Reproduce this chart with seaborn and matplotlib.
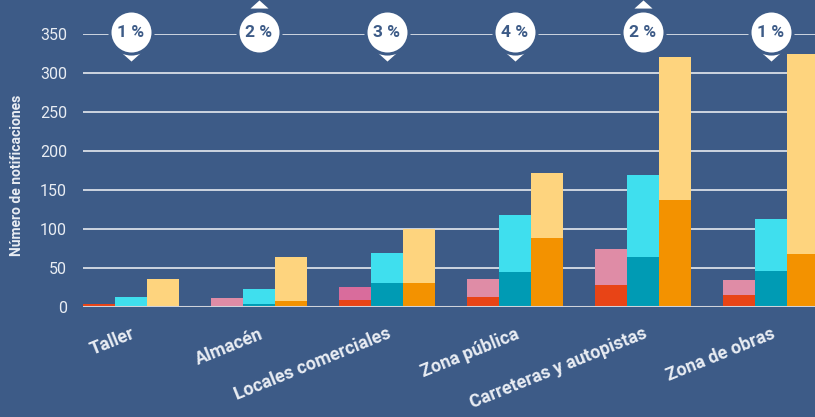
import matplotlib
matplotlib.use("Agg")
import matplotlib.pyplot as plt
import seaborn as sns
import pandas as pd
import numpy as np

# ---- data ----
categories = ["Taller", "Almacén", "Locales comerciales", "Zona pública",
              "Carreteras y autopistas", "Zona de obras"]
series = ["A", "B", "C"]
# totals (light part top) and bottom (dark part) for each series
total_a = [4, 11, 25, 35, 74, 34]
bottom_a = [4, 0, 9, 12, 28, 15]
total_b = [13, 23, 69, 118, 169, 112]
bottom_b = [0, 3, 30, 44, 64, 46]
total_c = [35, 64, 100, 171, 320, 324]
bottom_c = [0, 7, 30, 88, 137, 68]
pct_labels = ["1 %", "2 %", "3 %", "4 %", "2 %", "1 %"]
pct_dirs = ["down", "up", "down", "down", "up", "down"]
y_ticks = [0, 50, 100, 150, 200, 250, 300, 350]

BG = "#3d5b87"
light_colors = ["#df8ca6", "#3fdfee", "#fed47e"]
dark_colors = ["#e84416", "#009bb4", "#f39200"]
TXT = "#e9edf3"

rows = []
for i, c in enumerate(categories):
    for s, t, b in zip(series, (total_a, total_b, total_c), (bottom_a, bottom_b, bottom_c)):
        rows.append({"cat": c, "series": s, "total": t[i], "bottom": b[i]})
df = pd.DataFrame(rows)

sns.set_theme(style="white")
plt.rcParams["font.family"] = ["Roboto", "DejaVu Sans"]

fig = plt.figure(figsize=(8.15, 4.17), dpi=100, facecolor=BG)
ax = fig.add_axes([83 / 815, 110.3 / 417, 1 - 83 / 815, (306.7 - 33.7) / 417])
ax.set_facecolor(BG)

for y in y_ticks[1:]:
    ax.axhline(y, color="#e6e9ef", lw=1.2, zorder=0.5)

sns.barplot(data=df, x="cat", y="total", hue="series", palette=light_colors,
            width=0.75, gap=0, saturation=1, errorbar=None, legend=False,
            linewidth=0, ax=ax, zorder=2)
# the "Locales comerciales" pink bar is a deeper magenta in the original
ax.containers[0][2].set_facecolor("#d96c9c")
sns.barplot(data=df, x="cat", y="bottom", hue="series", palette=dark_colors,
            width=0.75, gap=0, saturation=1, errorbar=None, legend=False,
            linewidth=0, ax=ax, zorder=3)

ax.axhline(0, color="#cfd3db", lw=2.2, zorder=4)

ax.set_ylim(0, 350)
ax.set_xlim(-0.375, 5.344)
ax.set_yticks(y_ticks)
ax.set_yticklabels([str(v) for v in y_ticks], color=TXT, fontsize=11.5)
ax.tick_params(axis="y", length=0, pad=11.5)
ax.tick_params(axis="x", length=0, pad=13)
ax.set_xticks(range(len(categories)))
ax.set_xticklabels(categories, rotation=22, ha="right", rotation_mode="anchor",
                   color=TXT, fontsize=13, fontweight="semibold")
ax.set_xlabel("")
ax.set_ylabel("")
for sp in ax.spines.values():
    sp.set_visible(False)

fig.text(17 / 815, 1 - 175 / 417, "Número de notificaciones", rotation=90,
         ha="center", va="center", color=TXT, fontsize=10, fontweight="bold")

# badges
tri_down = [(-1, 0.45), (1, 0.45), (0, -0.45)]
tri_up = [(-1, -0.45), (1, -0.45), (0, 0.45)]
for i, (lab, d) in enumerate(zip(pct_labels, pct_dirs)):
    if d == "down":
        ax.plot(i, 320.4, marker=tri_down, ms=13, color="white", mew=0,
                clip_on=False, zorder=9)
    else:
        ax.plot(i, 387.6, marker=tri_up, ms=13, color="white", mew=0,
                clip_on=False, zorder=9)
    ax.plot(i, 352, marker="o", ms=31, mfc="white", mec=BG, mew=2.2,
            clip_on=False, zorder=10)
    ax.text(i, 352, lab, ha="center", va="center", color=BG, fontsize=12.5,
            fontweight="bold", zorder=11, clip_on=False)

fig.savefig("out.png", dpi=100, facecolor=BG)
